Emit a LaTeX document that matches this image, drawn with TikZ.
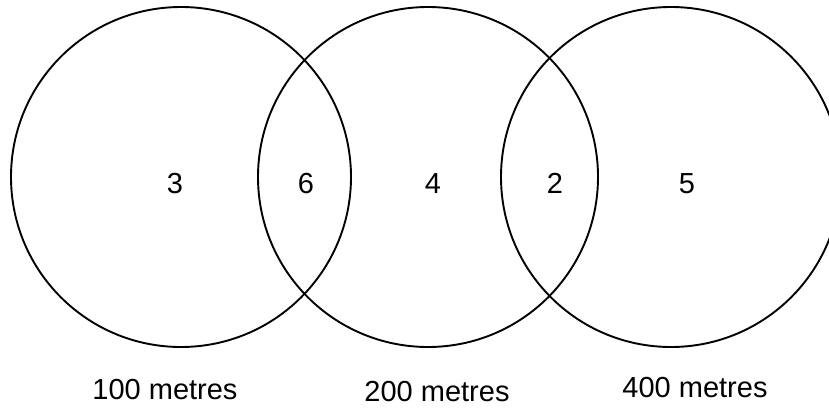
\documentclass[tikz,border=0pt]{standalone}
\usepackage{fontspec}
\setmainfont{Liberation Sans}
\begin{document}
\begin{tikzpicture}[x=1pt,y=-1pt,
  vennset/.style={draw, circle, line width=1.9pt, minimum size=340pt, inner sep=0pt},
  num/.style={font=\fontsize{29}{34}\selectfont, inner sep=0pt},
  setlabel/.style={font=\fontsize{29}{34}\selectfont, inner sep=0pt}]
\useasboundingbox (0,0) rectangle (829,407);
\node[vennset] (c1) at (181,177) {};
\node[vennset] (c2) at (428,177) {};
\node[vennset] (c3) at (671,177) {};
\node[num] (n3) at (175,183.5) {3};
\node[num] (n6) at (306,183.5) {6};
\node[num] (n4) at (433,183.5) {4};
\node[num] (n2) at (555,183.5) {2};
\node[num] (n5) at (687,183.5) {5};
\node[setlabel] (l1) at (165,390) {100 metres};
\node[setlabel] (l2) at (437,392) {200 metres};
\node[setlabel] (l3) at (695,387.5) {400 metres};
\end{tikzpicture}
\end{document}
